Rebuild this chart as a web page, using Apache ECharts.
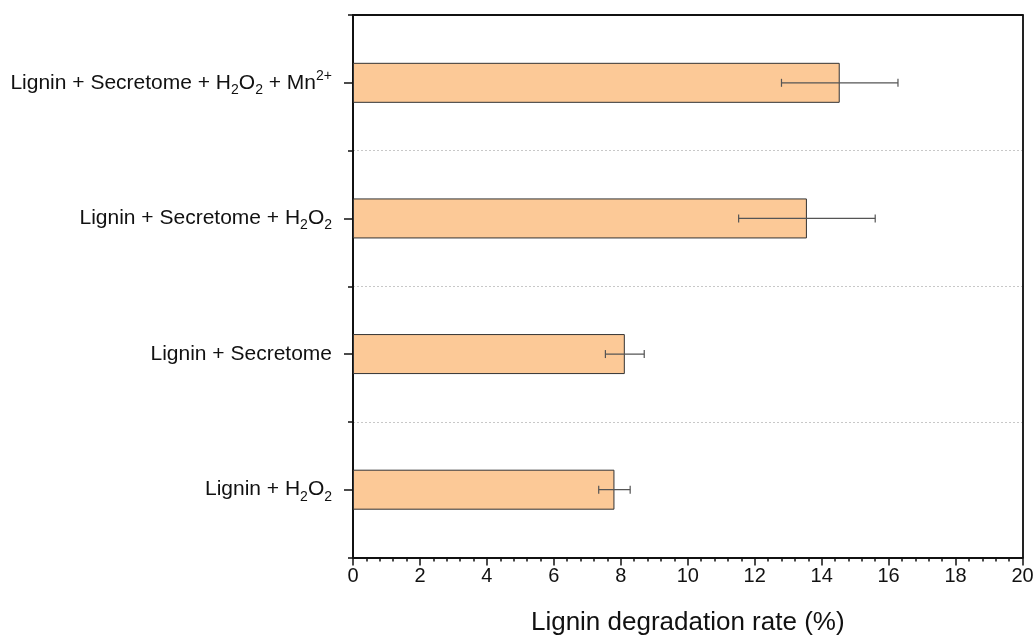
<!DOCTYPE html>
<html>
<head>
<meta charset="utf-8">
<script src="https://cdn.jsdelivr.net/npm/echarts@6/dist/echarts.min.js"></script>
<style>html,body{margin:0;padding:0;background:#fff}#c{width:1035px;height:635px}</style>
</head>
<body>
<div id="c"></div>
<script>
// bottom to top
var categories = ['Lignin + H2O2', 'Lignin + Secretome', 'Lignin + Secretome + H2O2', 'Lignin + Secretome + H2O2 + Mn2+'];
var categoryLabels = [
  '{t|Lignin + H}{sub|2}{t|O}{sub|2}',
  '{t|Lignin + Secretome}',
  '{t|Lignin + Secretome + H}{sub|2}{t|O}{sub|2}',
  '{t|Lignin + Secretome + H}{sub|2}{t|O}{sub|2}{t| + Mn}{sup|2+}'
];
var rates = [7.81, 8.12, 13.56, 14.54];
var errors = [0.47, 0.58, 2.04, 1.74];
var xTicks = [0, 20, 2];
var xTitle = 'Lignin degradation rate (%)';

var errData = rates.map(function (v, i) { return [v - errors[i], v + errors[i], i]; });

var font = '"Liberation Sans", Arial, sans-serif';
var chart = echarts.init(document.getElementById('c'), null, {renderer: 'canvas'});
chart.setOption({
  animation: false,
  grid: {left: 353, right: 12.5, top: 15, bottom: 77.5, show: false, containLabel: false, outerBoundsMode: 'none'},
  xAxis: [{
    type: 'value', min: xTicks[0], max: xTicks[1], interval: xTicks[2],
    name: xTitle, nameLocation: 'middle', nameGap: 52,
    nameTextStyle: {fontFamily: font, fontSize: 26, color: '#111', lineHeight: 26},
    axisLine: {show: true, lineStyle: {color: '#111', width: 2}},
    axisTick: {show: true, length: 8, lineStyle: {color: '#111', width: 1.5}},
    minorTick: {show: true, splitNumber: 5, length: 4, lineStyle: {color: '#111', width: 1.5}},
    axisLabel: {fontFamily: font, fontSize: 20, color: '#111', margin: 9},
    splitLine: {show: false}
  }, {
    type: 'value', min: xTicks[0], max: xTicks[1], position: 'top',
    axisLine: {show: true, onZero: false, lineStyle: {color: '#111', width: 2}},
    axisTick: {show: false}, axisLabel: {show: false}, splitLine: {show: false}
  }],
  yAxis: [{
    type: 'category', data: categories,
    axisLine: {show: true, lineStyle: {color: '#111', width: 2}},
    axisTick: {show: true, alignWithLabel: true, length: 9, lineStyle: {color: '#111', width: 1.5}},
    axisLabel: {
      margin: 21,
      formatter: function (v, i) { return categoryLabels[categories.indexOf(v)]; },
      rich: {
        t: {fontFamily: font, fontSize: 21, color: '#111', lineHeight: 28, verticalAlign: 'middle'},
        sub: {fontFamily: font, fontSize: 14, color: '#111', lineHeight: 14, verticalAlign: 'bottom'},
        sup: {fontFamily: font, fontSize: 14, color: '#111', lineHeight: 14, verticalAlign: 'top'}
      }
    },
    splitLine: {show: true, lineStyle: {color: '#c8c8c8', width: 1, type: [2, 2]}}
  }, {
    type: 'category', data: categories, position: 'left',
    axisLine: {show: false},
    axisTick: {show: true, alignWithLabel: false, length: 5, lineStyle: {color: '#111', width: 1.5}},
    axisLabel: {show: false},
    splitLine: {show: false}
  }, {
    type: 'category', data: categories, position: 'right',
    axisLine: {show: true, onZero: false, lineStyle: {color: '#222', width: 2}},
    axisTick: {show: false}, axisLabel: {show: false}, splitLine: {show: false}
  }],
  series: [{
    type: 'bar', data: rates, barWidth: 40, yAxisIndex: 0,
    itemStyle: {color: '#FCC997', borderColor: '#333', borderWidth: 1}
  }, {
    type: 'custom', data: errData, yAxisIndex: 0, z: 5,
    encode: {x: [0, 1], y: 2},
    renderItem: function (params, api) {
      var lo = api.coord([api.value(0), api.value(2)]);
      var hi = api.coord([api.value(1), api.value(2)]);
      var h = 4;
      var st = {stroke: '#555', lineWidth: 1.2};
      return {type: 'group', children: [
        {type: 'line', shape: {x1: lo[0], y1: lo[1], x2: hi[0], y2: hi[1]}, style: st},
        {type: 'line', shape: {x1: lo[0], y1: lo[1] - h, x2: lo[0], y2: lo[1] + h}, style: st},
        {type: 'line', shape: {x1: hi[0], y1: hi[1] - h, x2: hi[0], y2: hi[1] + h}, style: st}
      ]};
    }
  }]
});
</script>
</body>
</html>
